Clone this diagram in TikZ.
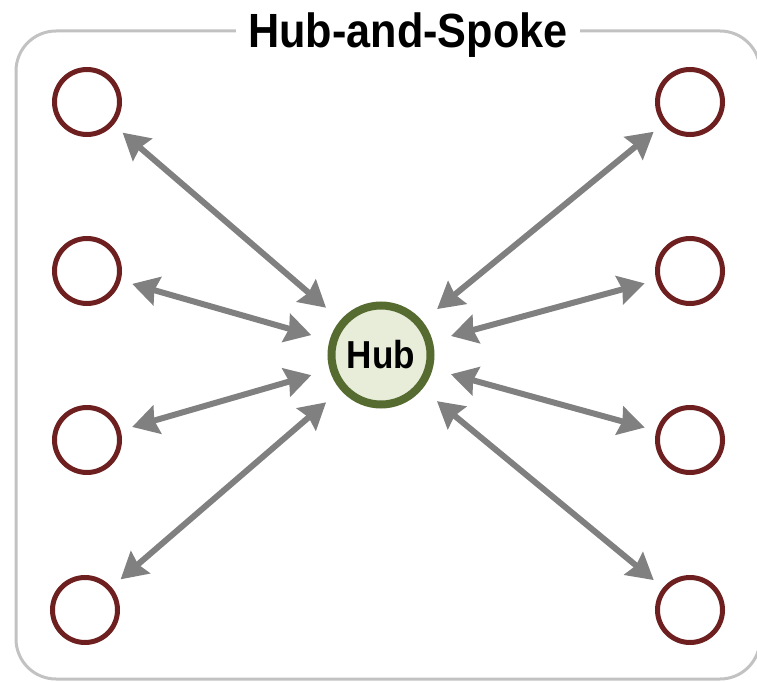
\documentclass[tikz,border=0pt]{standalone}
\usepackage{fontspec}
\newfontfamily\hubfont[FakeStretch=0.9]{Liberation Sans}
\usetikzlibrary{arrows.meta}
\definecolor{spokered}{RGB}{110,32,32}
\definecolor{hubgreen}{RGB}{85,107,47}
\definecolor{hubfill}{RGB}{232,237,218}
\definecolor{arrowgray}{RGB}{128,128,128}
\definecolor{framegray}{RGB}{194,194,194}
\begin{document}
\begin{tikzpicture}[x=1pt,y=-1pt,
	spoke/.style={circle, draw=spokered, line width=5pt, minimum size=65pt, inner sep=0pt},
	hub/.style={circle, draw=hubgreen, fill=hubfill, line width=8pt, minimum size=99pt, inner sep=0pt,
		font=\hubfont\bfseries\fontsize{39}{42}\selectfont},
	link/.style={{Stealth[length=26pt,width=29pt,inset=3pt]}-{Stealth[length=26pt,width=29pt,inset=3pt]},
		draw=arrowgray, line width=6pt, shorten <=12pt, shorten >=19pt}]
	\useasboundingbox (0,0) rectangle (757,682);
	% frame and title
	\draw [framegray, line width=3pt, rounded corners=40pt] (16,31) rectangle (760,679);
	\node [fill=white, inner xsep=12pt, inner ysep=2pt, anchor=base,
		font=\hubfont\bfseries\fontsize{48}{50}\selectfont] (title) at (408,48) {Hub-and-Spoke};
	% hub
	\node [hub] (hub) at (381,355) {Hub};
	% left spokes
	\node [spoke] (l1) at (87,102) {};
	\node [spoke] (l2) at (87,271) {};
	\node [spoke] (l3) at (87,440) {};
	\node [spoke] (l4) at (85,610) {};
	% right spokes
	\node [spoke] (r1) at (690,102) {};
	\node [spoke] (r2) at (690,271) {};
	\node [spoke] (r3) at (690,440) {};
	\node [spoke] (r4) at (690,610) {};
	% links
	\draw [link] (l1) -- (hub);
	\draw [link] (l2) -- (hub);
	\draw [link] (l3) -- (hub);
	\draw [link] (l4) -- (hub);
	\draw [link] (r1) -- (hub);
	\draw [link] (r2) -- (hub);
	\draw [link] (r3) -- (hub);
	\draw [link] (r4) -- (hub);
\end{tikzpicture}
\end{document}
